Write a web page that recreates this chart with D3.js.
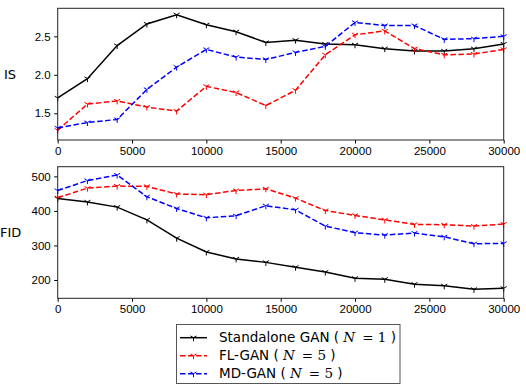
<!DOCTYPE html>
<html>
<head>
<meta charset="utf-8">
<script src="https://cdn.jsdelivr.net/npm/d3@7"></script>
<style>
  body { margin: 0; background: #fff; }
  svg { display: block; font-family: "DejaVu Sans", sans-serif; }
  .tick text { font-size: 11.5px; fill: #000; }
  .tick line { stroke: #000; }
  .domain { display: none; }
</style>
</head>
<body>
<div id="chart"></div>
<script>
// iterations (x axis)
const iters = [0, 2000, 4000, 6000, 8000, 10000, 12000, 14000, 16000, 18000, 20000, 22000, 24000, 26000, 28000, 30000];

// Inception score
const isStandalone = [1.70, 1.95, 2.38, 2.66, 2.78, 2.65, 2.56, 2.42, 2.45, 2.40, 2.39, 2.34, 2.31, 2.31, 2.34, 2.40];
const isFL = [1.28, 1.62, 1.66, 1.58, 1.53, 1.85, 1.77, 1.60, 1.80, 2.26, 2.52, 2.57, 2.34, 2.26, 2.27, 2.33];
const isMD = [1.31, 1.38, 1.42, 1.81, 2.10, 2.33, 2.23, 2.20, 2.29, 2.37, 2.68, 2.64, 2.64, 2.46, 2.47, 2.50];

// FID
const fidStandalone = [436, 426, 411, 374, 321, 281, 261, 251, 237, 223, 205, 202, 188, 183, 173, 176];
const fidFL = [438, 466, 472, 471, 449, 447, 459, 464, 437, 401, 387, 374, 361, 360, 356, 362];
const fidMD = [459, 488, 504, 441, 407, 380, 386, 415, 403, 356, 337, 330, 336, 325, 305, 306];

const xTicks = [0, 5000, 10000, 15000, 20000, 25000, 30000];
const isTicks = [1.5, 2.0, 2.5];
const fidTicks = [200, 300, 400, 500];

const W = 526, H = 385;
const svg = d3.select("#chart").append("svg").attr("width", W).attr("height", H);

const left = 57.7, right = 503.7;
const x = d3.scaleLinear().domain([0, 30000]).range([left, right]);

const series = [
  { name: "Standalone GAN", n: "1", color: "#000000", dash: null },
  { name: "FL-GAN", n: "5", color: "#ff0000", dash: "5.5,2.5" },
  { name: "MD-GAN", n: "5", color: "#0000ff", dash: "5.5,2.5" }
];

function triDown(g, cx, cy, color) {
  const r = 3.5;
  const pts = [[0, r], [-r * 0.866, -r * 0.5], [r * 0.866, -r * 0.5]];
  pts.forEach(p => {
    g.append("line")
      .attr("x1", cx).attr("y1", cy)
      .attr("x2", cx + p[0]).attr("y2", cy + p[1])
      .attr("stroke", color).attr("stroke-width", 1);
  });
}

function panel(top, bottom, domain, yTicks, yFmt, label, datasets) {
  const y = d3.scaleLinear().domain(domain).range([bottom, top]);
  const g = svg.append("g");

  g.append("g")
    .attr("transform", `translate(0,${bottom})`)
    .call(d3.axisBottom(x).tickValues(xTicks).tickSize(3.5).tickPadding(3.5).tickFormat(d3.format("d")));
  g.append("g")
    .attr("transform", `translate(${left},0)`)
    .call(d3.axisLeft(y).tickValues(yTicks).tickSize(3.5).tickPadding(3.5).tickFormat(yFmt));

  const line = d3.line().x((d, i) => x(iters[i])).y(d => y(d));

  datasets.forEach((data, k) => {
    const s = series[k];
    g.append("path")
      .datum(data)
      .attr("d", line)
      .attr("fill", "none")
      .attr("stroke", s.color)
      .attr("stroke-width", 1.5)
      .attr("stroke-dasharray", s.dash);
    const mg = g.append("g");
    data.forEach((d, i) => triDown(mg, x(iters[i]), y(d), s.color));
  });

  g.append("rect")
    .attr("x", left).attr("y", top)
    .attr("width", right - left).attr("height", bottom - top)
    .attr("fill", "none").attr("stroke", "#222").attr("stroke-width", 1);

  svg.append("text")
    .attr("x", label === "IS" ? 4 : 0)
    .attr("y", (top + bottom) / 2 + 4.5)
    .attr("font-size", 13)
    .text(label);
}

panel(8.3, 140, [1.153, 2.864], isTicks, d3.format(".1f"), "IS", [isStandalone, isFL, isMD]);
panel(166.7, 298.3, [147, 528], fidTicks, d3.format("d"), "FID", [fidStandalone, fidFL, fidMD]);

// legend
const lg = svg.append("g");
lg.append("rect")
  .attr("x", 176.5).attr("y", 324.5)
  .attr("width", 223.5).attr("height", 59)
  .attr("fill", "#fff").attr("stroke", "#555").attr("stroke-width", 1);

series.forEach((s, i) => {
  const yy = 337.7 + i * 18;
  lg.append("line")
    .attr("x1", 180).attr("x2", 207)
    .attr("y1", yy).attr("y2", yy)
    .attr("stroke", s.color).attr("stroke-width", 1.5)
    .attr("stroke-dasharray", s.dash);
  triDown(lg, 193.5, yy, s.color);
  const t = lg.append("text")
    .attr("x", 219).attr("y", yy + 4.7)
    .attr("font-size", 13.5);
  t.append("tspan").text(s.name + " ( ");
  t.append("tspan").attr("font-family", "DejaVu Serif").attr("font-style", "italic").text("N");
  t.append("tspan").attr("font-family", "DejaVu Serif").text(" \u2009= " + s.n);
  t.append("tspan").text(" )");
});
</script>
</body>
</html>
